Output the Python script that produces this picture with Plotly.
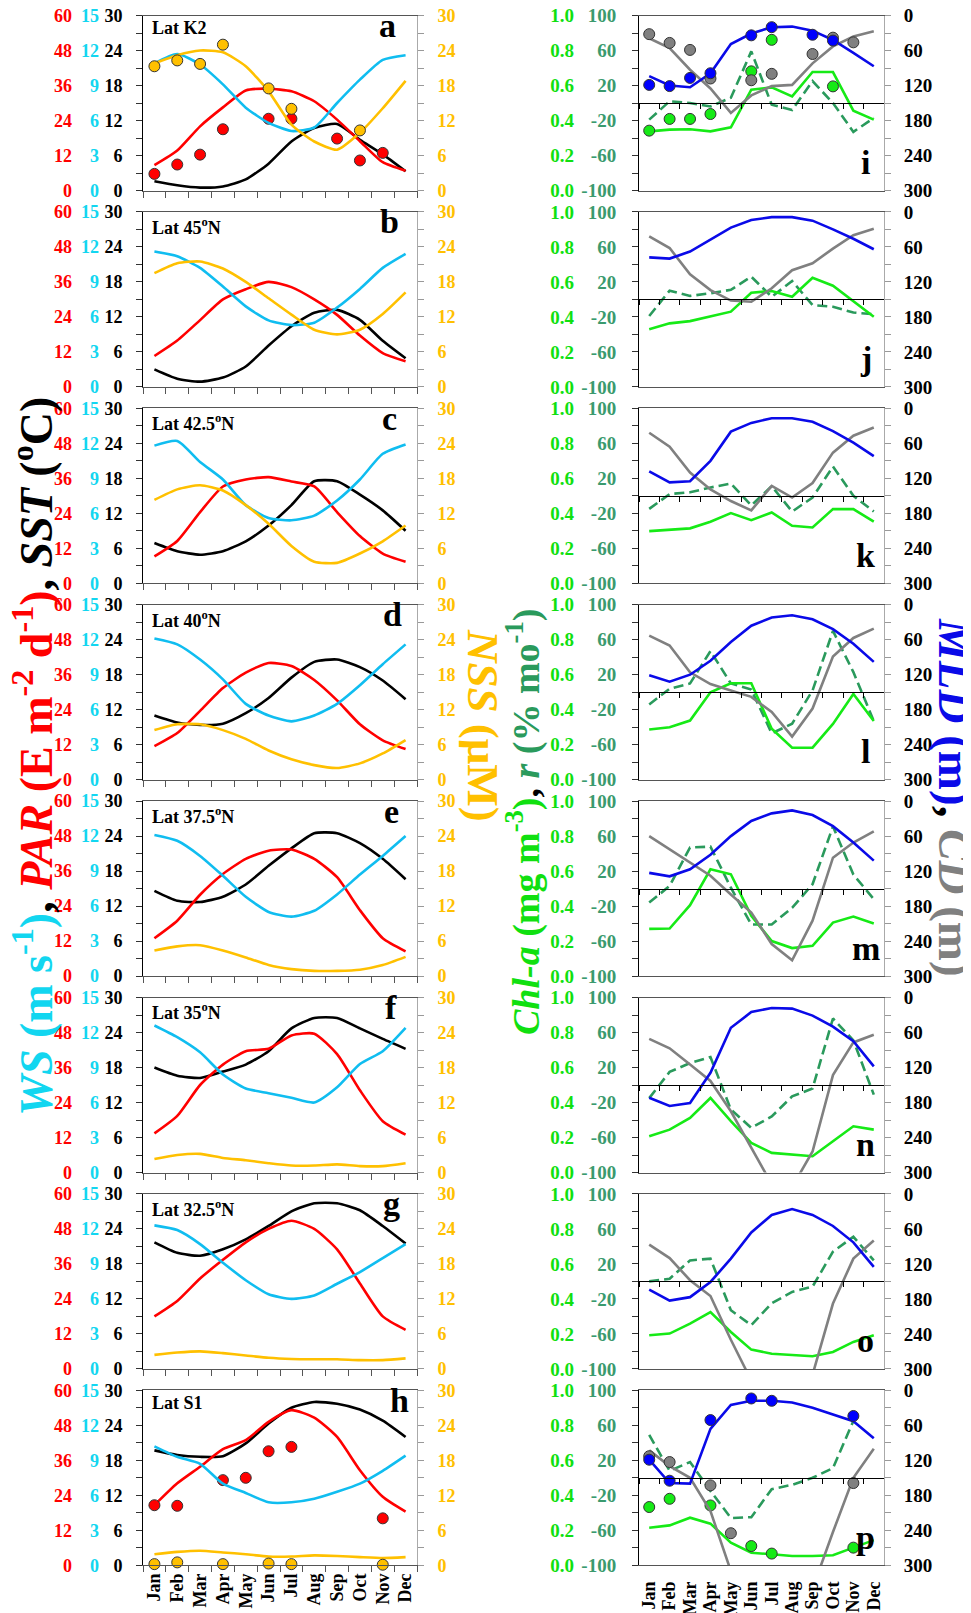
import plotly.graph_objects as go

# page is 971x1613; the html body has an 8px margin (left/top), so shift the design by 8px
OFF = 8
PW, PHT = 971, 1613
FW, FH = PW - OFF, PHT - OFF
FONT = "Liberation Serif"
months = ["Jan", "Feb", "Mar", "Apr", "May", "Jun", "Jul", "Aug", "Sep", "Oct", "Nov", "Dec"]

# ---------------- left column (a-h): PAR, WS, SST, NSS ----------------
lat_labels = ["Lat K2", "Lat 45<sup>o</sup>N", "Lat 42.5<sup>o</sup>N", "Lat 40<sup>o</sup>N",
              "Lat 37.5<sup>o</sup>N", "Lat 35<sup>o</sup>N", "Lat 32.5<sup>o</sup>N", "Lat S1"]
left_letters = ["a", "b", "c", "d", "e", "f", "g", "h"]
right_letters = ["i", "j", "k", "l", "m", "n", "o", "p"]

par_a = [8.7, 13.7, 22.0, 28.5, 34.3, 34.9, 34.0, 30.6, 24.3, 16.9, 9.7, 6.8]
ws_a = [10.9, 11.7, 10.8, 9.1, 7.1, 5.8, 5.1, 5.4, 7.5, 9.5, 11.2, 11.6]
sst_a = [1.6, 0.9, 0.5, 0.7, 1.9, 4.6, 8.4, 10.7, 11.4, 8.7, 6.2, 3.3]
nss_a = [21.8, 23.2, 24.0, 23.7, 21.3, 17.0, 11.3, 8.4, 7.0, 9.9, 14.1, 18.8]
par_a_obs = [5.7, 8.9, 12.3, 21.0, None, 24.6, 24.6, None, 17.8, 10.3, 12.9, None]
nss_a_obs = [21.3, 22.3, 21.7, 25.0, None, 17.5, 14.0, None, None, 10.3, None, None]

par_b = [10.6, 15.9, 22.9, 30.0, 33.5, 36.0, 34.2, 30.0, 24.7, 17.6, 11.6, 8.8]
ws_b = [11.6, 11.2, 10.2, 8.6, 6.9, 5.7, 5.3, 5.5, 6.8, 8.4, 10.2, 11.4]
sst_b = [3.0, 1.4, 0.9, 1.6, 3.5, 7.1, 10.4, 12.7, 13.2, 11.5, 7.9, 4.9]
nss_b = [19.5, 21.2, 21.5, 20.3, 18.0, 15.2, 12.4, 9.8, 9.0, 9.8, 12.5, 16.2]

par_c = [9.2, 14.5, 24.4, 33.2, 35.6, 36.4, 34.9, 33.2, 24.4, 16.2, 10.2, 7.4]
ws_c = [11.8, 12.2, 10.4, 8.9, 6.7, 5.6, 5.4, 5.8, 7.1, 8.9, 11.1, 11.9]
sst_c = [6.9, 5.5, 4.9, 5.5, 7.2, 9.9, 13.4, 17.5, 17.5, 15.2, 12.5, 9.0]
nss_c = [14.3, 16.1, 16.8, 15.9, 13.4, 10.2, 6.4, 3.7, 3.5, 5.1, 7.2, 9.9]

par_d = [11.5, 16.0, 23.6, 31.4, 36.7, 40.0, 39.0, 34.2, 27.2, 19.0, 13.5, 10.5]
ws_d = [12.1, 11.6, 10.3, 8.6, 6.5, 5.5, 5.0, 5.5, 6.5, 8.1, 9.9, 11.6]
sst_d = [11.0, 9.8, 9.4, 9.6, 11.4, 14.0, 17.5, 20.2, 20.6, 19.3, 17.0, 13.8]
nss_d = [8.5, 9.5, 9.5, 8.5, 7.0, 5.0, 3.5, 2.5, 2.0, 2.8, 4.5, 6.8]

par_e = [13.0, 19.0, 27.9, 35.0, 40.2, 43.0, 43.4, 40.2, 33.9, 22.6, 13.0, 8.5]
ws_e = [12.1, 11.6, 10.3, 8.6, 6.8, 5.5, 5.1, 5.6, 7.0, 8.7, 10.3, 12.0]
sst_e = [14.6, 12.9, 12.7, 13.6, 15.7, 18.9, 21.9, 24.5, 24.5, 22.8, 20.1, 16.6]
nss_e = [4.4, 5.1, 5.3, 4.4, 3.2, 1.9, 1.2, 0.9, 0.9, 1.1, 1.9, 3.3]

par_f = [13.4, 19.4, 30.0, 37.0, 41.6, 42.4, 47.0, 47.6, 40.6, 28.2, 17.6, 13.0]
ws_f = [12.6, 11.6, 10.3, 8.4, 7.2, 6.8, 6.4, 6.0, 7.3, 9.3, 10.4, 12.4]
sst_f = [18.0, 16.6, 16.2, 17.3, 18.5, 20.8, 24.7, 26.5, 26.5, 24.7, 22.9, 21.2]
nss_f = [2.3, 3.0, 3.2, 2.5, 2.1, 1.6, 1.2, 1.2, 1.4, 1.1, 1.1, 1.6]

par_g = [18.0, 23.3, 31.0, 37.4, 43.4, 48.0, 50.8, 48.0, 41.0, 29.3, 18.0, 13.4]
ws_g = [12.3, 11.9, 10.7, 9.1, 7.6, 6.4, 6.0, 6.3, 7.3, 8.3, 9.5, 10.7]
sst_g = [21.7, 19.9, 19.4, 20.5, 22.2, 24.5, 27.0, 28.4, 28.4, 27.2, 24.5, 21.5]
nss_g = [2.4, 2.8, 3.0, 2.7, 2.3, 1.9, 1.7, 1.65, 1.65, 1.5, 1.5, 1.8]

par_h = [20.6, 28.1, 33.8, 39.8, 42.9, 49.2, 53.2, 50.6, 44.0, 32.6, 23.5, 18.4]
ws_h = [10.2, 9.3, 8.7, 7.0, 6.2, 5.4, 5.4, 5.7, 6.3, 7.0, 8.1, 9.4]
sst_h = [19.7, 18.9, 18.6, 18.7, 20.9, 24.3, 27.0, 28.0, 27.7, 26.7, 24.8, 22.0]
nss_h = [1.9, 2.3, 2.5, 2.2, 1.9, 1.5, 1.5, 1.7, 1.6, 1.4, 1.25, 1.4]
par_h_obs = [20.6, 20.4, None, 29.2, 30.0, 39.1, 40.6, None, None, None, 16.1, None]
nss_h_obs = [0.2, 0.5, None, 0.2, None, 0.3, 0.2, None, None, None, 0.1, None]

# ---------------- right column (i-p): MLD, CD, Chl-a, r ----------------
mld_i = [104, 120, 123, 99, 49, 31, 20, 19, 26, 42, 64, 87]
cd_i = [39, 56, 93, 125, 167, 137, 121, 119, 82, 53, 36, 27]
chl_i = [0.338, 0.348, 0.35, 0.338, 0.361, 0.576, 0.589, 0.538, 0.677, 0.677, 0.456, 0.405]
r_i = [-19, 2, 0, -4, 6, 59, -2, -8, 25, 0, -33, -17]
mld_i_obs = [119, 121, 107, 99, None, 34, 20, None, 33, 43, None, None]
cd_i_obs = [32, 47, 59, 108, None, 111, 100, None, 66, 38, 46, None]
chl_i_obs = [0.342, 0.409, 0.409, 0.437, None, 0.681, 0.861, None, None, 0.595, None, None]

mld_j = [78, 80, 68, 48, 27, 14, 9, 9, 15, 30, 46, 64]
cd_j = [42, 62, 107, 134, 152, 154, 131, 100, 88, 63, 40, 29]
chl_j = [0.329, 0.363, 0.376, 0.401, 0.43, 0.538, 0.548, 0.515, 0.624, 0.578, 0.49, 0.401]
r_j = [-19, 10, 4, 7, 11, 26, 3, 21, -6.5, -8.4, -15, -17]

mld_k = [108, 127, 125, 90, 40, 25, 17, 17, 23, 39, 59, 82]
cd_k = [42, 66, 110, 139, 159, 175, 133, 153, 128, 76, 47, 33]
chl_k = [0.298, 0.306, 0.314, 0.352, 0.401, 0.361, 0.405, 0.329, 0.319, 0.424, 0.424, 0.352]
r_k = [-15, 2, 4, 9.5, 14, -11, 11, -18, -2, 33.5, 0, -18]

mld_l = [121, 132, 120, 96, 64, 36, 22, 18, 25, 42, 67, 98]
cd_l = [53, 70, 116, 136, 147, 158, 184, 226, 178, 89, 57, 41]
chl_l = [0.287, 0.3, 0.338, 0.5, 0.551, 0.551, 0.291, 0.183, 0.183, 0.319, 0.49, 0.335]
r_l = [-14, 4, 10, 47, 10, 3, -47, -36, 2, 70, 23, -33]

mld_m = [123, 129, 117, 92, 60, 34, 21, 16, 24, 43, 71, 102]
cd_m = [60, 83, 106, 128, 160, 191, 245, 273, 205, 97, 71, 52]
chl_m = [0.27, 0.272, 0.405, 0.61, 0.582, 0.344, 0.2, 0.16, 0.173, 0.306, 0.34, 0.3]
r_m = [-16, 3, 47, 48, 1, -41, -41, -22, 5, 71, 16, -12]

mld_n = [172, 186, 181, 129, 52, 25, 18, 19, 31, 50, 75, 118]
cd_n = [71, 87, 115, 143, 195, 258, 320, 325, 264, 133, 77, 64]
chl_n = [0.207, 0.245, 0.312, 0.426, 0.293, 0.169, 0.112, 0.103, 0.093, 0.179, 0.264, 0.245]
r_n = [-15, 15, 25, 32, -28, -49, -36, -13, -4, 76, 51, -11]

mld_o = [164, 183, 177, 151, 111, 66, 36, 26, 36, 55, 83, 125]
cd_o = [87, 110, 148, 175, 250, 320, 330, 330, 310, 188, 111, 80]
chl_o = [0.192, 0.202, 0.259, 0.325, 0.211, 0.11, 0.087, 0.078, 0.072, 0.097, 0.154, 0.192]
r_o = [0, 3, 24, 26, -33, -50, -25, -12, -6, 34, 51, 24]

mld_p = [119, 159, 160, 66, 25, 18, 18, 21, 30, 41, 53, 82]
cd_p = [103, 130, 150, 207, 310, 340, 340, 340, 340, 243, 150, 100]
chl_p = [0.215, 0.228, 0.272, 0.238, 0.129, 0.072, 0.063, 0.053, 0.053, 0.057, 0.101, 0.144]
r_p = [49, 8, 18, -15, -46, -45, -13, -8, 0, 11, 65, None]
mld_p_obs = [119, 155, None, 51, None, 14, 18, None, None, None, 44, None]
cd_p_obs = [113, 123, None, 163, 245, None, None, None, None, None, 159, None]
chl_p_obs = [0.333, 0.380, None, 0.342, None, 0.110, 0.067, None, None, None, 0.101, None]

r_ticks = [-100, -60, -20, 20, 60, 100]

# ---------------- styling ----------------
C_PAR = "#ff0000"
C_WS = "#10bdf0"
C_WS_LBL = "#12d6f0"
C_SST = "#000000"
C_NSS = "#ffc000"
C_MLD = "#0a0ae8"
C_CD = "#808080"
C_CHL = "#16ea16"
C_CHL_LBL = "#10e010"
C_R = "#2a9a5c"
C_R_LBL = "#3a9a6e"

LX0, LX1 = 143, 417
RX0, RX1 = 639, 884
ROW0, STEP, PH = 15.5, 196.4, 175
LW = 2.6
left_letter_x = [387, 389, 389, 392, 391, 391, 391, 399]


def X(px):
    return (px - OFF) / FW


def Y(py):
    return 1 - (py - OFF) / FH


def tf(color, size=18):
    return dict(family=FONT, size=size, color=color, weight="bold")


left_sets = [
    (par_a, ws_a, sst_a, nss_a, par_a_obs, nss_a_obs),
    (par_b, ws_b, sst_b, nss_b, None, None),
    (par_c, ws_c, sst_c, nss_c, None, None),
    (par_d, ws_d, sst_d, nss_d, None, None),
    (par_e, ws_e, sst_e, nss_e, None, None),
    (par_f, ws_f, sst_f, nss_f, None, None),
    (par_g, ws_g, sst_g, nss_g, None, None),
    (par_h, ws_h, sst_h, nss_h, par_h_obs, nss_h_obs),
]
right_sets = [
    (mld_i, cd_i, chl_i, r_i, mld_i_obs, cd_i_obs, chl_i_obs),
    (mld_j, cd_j, chl_j, r_j, None, None, None),
    (mld_k, cd_k, chl_k, r_k, None, None, None),
    (mld_l, cd_l, chl_l, r_l, None, None, None),
    (mld_m, cd_m, chl_m, r_m, None, None, None),
    (mld_n, cd_n, chl_n, r_n, None, None, None),
    (mld_o, cd_o, chl_o, r_o, None, None, None),
    (mld_p, cd_p, chl_p, r_p, mld_p_obs, cd_p_obs, chl_p_obs),
]

fig = go.Figure()
layout = {}
annotations = []
counters = {"x": 0, "y": 0}


def new_axis(kind):
    counters[kind] += 1
    n = counters[kind]
    key = f"{kind}axis" if n == 1 else f"{kind}axis{n}"
    ref = kind if n == 1 else f"{kind}{n}"
    return key, ref


def cat_axis(**kw):
    d = dict(type="category", categoryorder="array", categoryarray=months,
             range=[-0.5, 11.5], showgrid=False, zeroline=False,
             tickmode="array", tickvals=months, ticktext=months,
             ticklabeloverflow="allow")
    d.update(kw)
    return d


def yax(**kw):
    d = dict(showgrid=False, zeroline=False, ticklabeloverflow="allow")
    d.update(kw)
    return d


def line(x, y, xa, ya, color, dash="solid", shape="linear"):
    return go.Scatter(x=x, y=y, xaxis=xa, yaxis=ya, mode="lines",
                      line=dict(color=color, width=LW, dash=dash, shape=shape,
                                smoothing=0.6 if shape == "spline" else None),
                      showlegend=False, hoverinfo="skip")


def dots(x, y, xa, ya, color):
    return go.Scatter(x=x, y=y, xaxis=xa, yaxis=ya, mode="markers",
                      marker=dict(color=color, size=11, line=dict(color="#333", width=1)),
                      showlegend=False, hoverinfo="skip", cliponaxis=False)


for k in range(8):
    top = ROW0 + STEP * k
    dom = [Y(top + PH), Y(top)]

    # ----- left panel -----
    par, ws, sst, nss, par_obs, nss_obs = left_sets[k]
    xk, xr = new_axis("x")
    ysk, ysr = new_axis("y")
    ypk, ypr = new_axis("y")
    ywk, ywr = new_axis("y")
    ynk, ynr = new_axis("y")
    layout[xk] = cat_axis(domain=[X(LX0), X(LX1)], anchor=ysr, tickson="boundaries",
                          ticks="outside", ticklen=6, tickcolor="#555", showline=True,
                          linecolor="#555", mirror=True, showticklabels=(k == 7),
                          tickangle=-90, tickfont=tf("#000", 18))
    layout[ysk] = yax(domain=dom, anchor=xr, range=[0, 30], tick0=0, dtick=6,
                      ticks="outside", ticklen=6, tickcolor="#333",
                      minor=dict(ticks="outside", ticklen=6, tick0=0, dtick=3, tickcolor="#333"),
                      showline=True, linecolor="#000",
                      tickfont=tf(C_SST), ticklabelstandoff=10)
    layout[ypk] = yax(overlaying=ysr, anchor="free", position=X(72), side="left",
                      range=[0, 60], tick0=0, dtick=12, ticks="", showline=False,
                      tickfont=tf(C_PAR))
    layout[ywk] = yax(overlaying=ysr, anchor="free", position=X(99), side="left",
                      range=[0, 15], tick0=0, dtick=3, ticks="", showline=False,
                      tickfont=tf(C_WS_LBL))
    layout[ynk] = yax(overlaying=ysr, anchor=xr, side="right", range=[0, 30], tick0=0,
                      dtick=6, ticks="outside", ticklen=6, tickcolor="#999",
                      minor=dict(ticks="outside", ticklen=6, tick0=0, dtick=3, tickcolor="#999"),
                      showline=True, linecolor="#aaa",
                      tickfont=tf(C_NSS), ticklabelstandoff=10)

    fig.add_trace(line(months, sst, xr, ysr, C_SST, shape="spline"))
    fig.add_trace(line(months, nss, xr, ynr, C_NSS, shape="spline"))
    fig.add_trace(line(months, ws, xr, ywr, C_WS, shape="spline"))
    fig.add_trace(line(months, par, xr, ypr, C_PAR, shape="spline"))
    if par_obs is not None:
        fig.add_trace(dots(months, par_obs, xr, ypr, C_PAR))
        fig.add_trace(dots(months, nss_obs, xr, ynr, C_NSS))

    annotations.append(dict(xref=f"{xr} domain", yref=f"{ysr} domain", x=0.025, y=0.995,
                            xanchor="left", yanchor="top", showarrow=False,
                            text=lat_labels[k], font=tf("#000", 18)))
    annotations.append(dict(xref=f"{xr} domain", yref=f"{ysr} domain",
                            x=(left_letter_x[k] - LX0) / (LX1 - LX0), y=1.06,
                            xanchor="center", yanchor="top", showarrow=False,
                            text=left_letters[k], font=tf("#000", 34)))

    # ----- right panel -----
    mld, cd, chl, rr, mld_obs, cd_obs, chl_obs = right_sets[k]
    xak, xar = new_axis("x")
    xbk, xbr = new_axis("x")
    yrk, yrr = new_axis("y")
    yck, ycr = new_axis("y")
    ymk, ymr = new_axis("y")
    layout[xak] = cat_axis(domain=[X(RX0), X(RX1)], anchor=yrr, ticks="", showline=True,
                           linecolor="#555", mirror=True, showticklabels=(k == 7),
                           tickangle=-90, tickfont=tf("#000", 18), ticklabelstandoff=8)
    layout[xbk] = cat_axis(overlaying=xar, anchor="free", position=Y(top + PH / 2),
                           tickson="boundaries", ticks="outside", ticklen=5, tickcolor="#000",
                           showline=True, linecolor="#000", showticklabels=False)
    layout[yrk] = yax(domain=dom, anchor=xar, range=[-100, 100], tickmode="array",
                      tickvals=r_ticks, ticktext=[str(v) for v in r_ticks],
                      ticks="outside", ticklen=6, tickcolor="#333",
                      minor=dict(ticks="outside", ticklen=6, tickmode="linear", tick0=-100,
                                 dtick=20, tickcolor="#333"),
                      showline=True, linecolor="#000",
                      tickfont=tf(C_R_LBL, 19), ticklabelstandoff=12)
    layout[yck] = yax(overlaying=yrr, anchor="free", position=X(574), side="left",
                      range=[0, 1], tick0=0, dtick=0.2, tickformat=".1f", ticks="",
                      showline=False, tickfont=tf(C_CHL_LBL, 19))
    layout[ymk] = yax(overlaying=yrr, anchor=xar, side="right", range=[300, 0], tick0=0,
                      dtick=60, ticks="outside", ticklen=6, tickcolor="#999",
                      minor=dict(ticks="outside", ticklen=6, tick0=0, dtick=30, tickcolor="#999"),
                      showline=True, linecolor="#aaa",
                      tickfont=tf("#000", 19), ticklabelstandoff=9)

    fig.add_trace(go.Scatter(x=months, y=[None] * 12, xaxis=xbr, yaxis=yrr, mode="lines",
                             showlegend=False, hoverinfo="skip"))
    fig.add_trace(line(months, rr, xar, yrr, C_R, dash="10px,5px"))
    fig.add_trace(line(months, chl, xar, ycr, C_CHL))
    fig.add_trace(line(months, cd, xar, ymr, C_CD))
    fig.add_trace(line(months, mld, xar, ymr, C_MLD))
    if mld_obs is not None:
        fig.add_trace(dots(months, cd_obs, xar, ymr, C_CD))
        fig.add_trace(dots(months, mld_obs, xar, ymr, "#0000ff"))
        fig.add_trace(dots(months, chl_obs, xar, ycr, C_CHL))

    annotations.append(dict(xref=f"{xar} domain", yref=f"{yrr} domain", x=0.925, y=0.16,
                            xanchor="center", yanchor="middle", showarrow=False,
                            text=right_letters[k], font=tf("#000", 34)))

# ----- big axis titles -----
annotations.append(dict(
    xref="paper", yref="paper", x=X(33), y=Y(757), textangle=-90, showarrow=False,
    xanchor="center", yanchor="middle", font=tf("#000", 46),
    text=(f"<span style='color:{C_WS_LBL}'><i>WS</i> (m s<sup>-1</sup>)</span>, "
          f"<span style='color:{C_PAR}'><i>PAR</i> (E m<sup>-2</sup> d<sup>-1</sup>)</span>, "
          f"<i>SST</i> (<sup>o</sup>C)")))
annotations.append(dict(
    xref="paper", yref="paper", x=X(483), y=Y(725), textangle=90, showarrow=False,
    xanchor="center", yanchor="middle", font=tf(C_NSS, 45),
    text="<i>NSS</i> (μM)"))
annotations.append(dict(
    xref="paper", yref="paper", x=X(523), y=Y(822), textangle=-90, showarrow=False,
    xanchor="center", yanchor="middle", font=tf("#000", 38),
    text=(f"<span style='color:{C_CHL_LBL}'><i>Chl-a</i> (mg m<sup>-3</sup>)</span>, "
          f"<span style='color:{C_R}'><i>r</i> (% mo<sup>-1</sup>)</span>")))
annotations.append(dict(
    xref="paper", yref="paper", x=X(955), y=Y(797), textangle=90, showarrow=False,
    xanchor="center", yanchor="middle", font=tf("#000", 47),
    text=(f"<span style='color:{C_MLD}'><i>MLD</i> (m)</span>, "
          f"<span style='color:{C_CD}'><i>CD</i> (m)</span>")))

layout.update(dict(width=FW, height=FH,
                   margin=dict(l=0, r=0, t=0, b=0, pad=0, autoexpand=False),
                   paper_bgcolor="white", plot_bgcolor="white", showlegend=False,
                   annotations=annotations, font=dict(family=FONT)))
fig.update_layout(**layout)
fig.write_html("out.html")
